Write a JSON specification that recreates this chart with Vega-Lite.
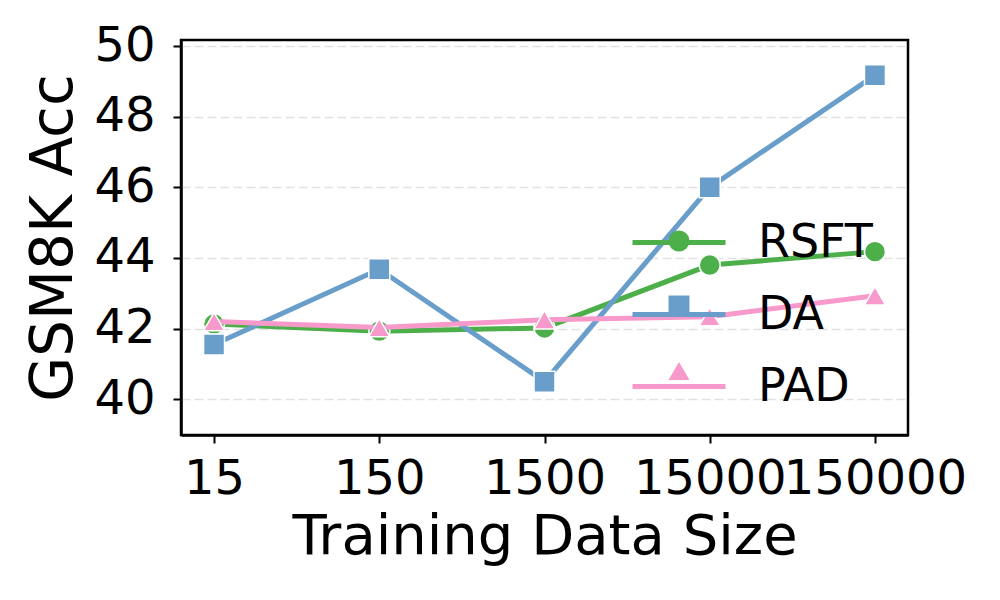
{
  "$schema": "https://vega.github.io/schema/vega-lite/v6.json",
  "autosize": {"type": "none"},
  "padding": {"left": 181, "top": 40, "right": 92, "bottom": 165},
  "width": 727,
  "height": 395,
  "config": {
    "font": "DejaVu Sans",
    "view": {"stroke": "black", "strokeWidth": 2.5},
    "axis": {"domainColor": "black", "domainWidth": 2.5, "tickColor": "black", "tickWidth": 2, "tickSize": 8, "labelColor": "black", "titleColor": "black", "titleFontWeight": "normal", "labelFont": "DejaVu Sans", "titleFont": "DejaVu Sans"},
    "legend": {"labelFont": "DejaVu Sans"}
  },
  "data": {
    "values": [
      {"size": "15", "series": "RSFT", "acc": 42.13},
      {"size": "150", "series": "RSFT", "acc": 41.93},
      {"size": "1500", "series": "RSFT", "acc": 42.02},
      {"size": "15000", "series": "RSFT", "acc": 43.8},
      {"size": "150000", "series": "RSFT", "acc": 44.18},
      {"size": "15", "series": "DA", "acc": 41.55},
      {"size": "150", "series": "DA", "acc": 43.68},
      {"size": "1500", "series": "DA", "acc": 40.5},
      {"size": "15000", "series": "DA", "acc": 46.0},
      {"size": "150000", "series": "DA", "acc": 49.17},
      {"size": "15", "series": "PAD", "acc": 42.2},
      {"size": "150", "series": "PAD", "acc": 42.03},
      {"size": "1500", "series": "PAD", "acc": 42.25},
      {"size": "15000", "series": "PAD", "acc": 42.34},
      {"size": "150000", "series": "PAD", "acc": 42.93}
    ]
  },
  "encoding": {
    "x": {
      "field": "size", "type": "ordinal",
      "sort": ["15", "150", "1500", "15000", "150000"],
      "scale": {"type": "point", "padding": 0.2},
      "axis": {"title": "Training Data Size", "labelAngle": 0, "labelFontSize": 48, "titleFontSize": 56, "labelPadding": 12, "titlePadding": 6, "labelOverlap": false, "labelBound": false, "labelLimit": 0, "grid": false}
    },
    "y": {
      "field": "acc", "type": "quantitative",
      "scale": {"domain": [38.99, 50.17], "nice": false, "zero": false},
      "axis": {"title": "GSM8K Acc", "values": [40, 42, 44, 46, 48, 50], "labelFontSize": 48, "titleFontSize": 58, "labelPadding": 18, "titlePadding": 10, "grid": true, "gridColor": "#e2e2e2", "gridWidth": 1.5, "gridDash": [9, 4]}
    }
  },
  "layer": [
    {
      "transform": [{"filter": "datum.series === 'RSFT'"}],
      "mark": {"type": "line", "strokeWidth": 5},
      "encoding": {"color": {"field": "series", "type": "nominal", "sort": ["RSFT", "DA", "PAD"], "scale": {"range": ["#4daf4a", "#699ecb", "#f799cb"]}, "legend": {"title": null, "orient": "none", "legendX": 449, "legendY": 153.5, "symbolType": "stroke", "symbolSize": 8649, "symbolStrokeWidth": 5, "labelFontSize": 46, "labelOffset": 30, "rowPadding": -28, "padding": 0, "labelColor": "black"}}}
    },
    {
      "transform": [{"filter": "datum.series === 'RSFT'"}],
      "mark": {"type": "point", "filled": true, "size": 440, "stroke": "white", "strokeWidth": 1.5, "opacity": 1},
      "encoding": {
        "shape": {"field": "series", "type": "nominal", "scale": {"domain": ["RSFT", "DA", "PAD"], "range": ["circle", "square", "triangle-up"]}, "legend": {"title": null, "orient": "none", "legendX": 475, "legendY": 178, "symbolSize": 440, "symbolStrokeColor": "white", "symbolStrokeWidth": 1.5, "labelFontSize": 46, "labelOpacity": 0, "rowPadding": 19, "padding": 0, "symbolOpacity": 1}},
        "fill": {"field": "series", "type": "nominal", "scale": {"domain": ["RSFT", "DA", "PAD"], "range": ["#4daf4a", "#699ecb", "#f799cb"]}, "legend": {"title": null, "orient": "none", "legendX": 475, "legendY": 178, "symbolSize": 440, "symbolStrokeColor": "white", "symbolStrokeWidth": 1.5, "labelFontSize": 46, "labelOpacity": 0, "rowPadding": 19, "padding": 0, "symbolOpacity": 1}}
      }
    },
    {
      "transform": [{"filter": "datum.series === 'DA'"}],
      "mark": {"type": "line", "strokeWidth": 5},
      "encoding": {"color": {"field": "series", "type": "nominal", "sort": ["RSFT", "DA", "PAD"]}}
    },
    {
      "transform": [{"filter": "datum.series === 'DA'"}],
      "mark": {"type": "point", "filled": true, "size": 440, "stroke": "white", "strokeWidth": 1.5, "opacity": 1},
      "encoding": {"shape": {"field": "series", "type": "nominal"}, "fill": {"field": "series", "type": "nominal"}}
    },
    {
      "transform": [{"filter": "datum.series === 'PAD'"}],
      "mark": {"type": "line", "strokeWidth": 5},
      "encoding": {"color": {"field": "series", "type": "nominal", "sort": ["RSFT", "DA", "PAD"]}}
    },
    {
      "transform": [{"filter": "datum.series === 'PAD'"}],
      "mark": {"type": "point", "filled": true, "size": 440, "stroke": "white", "strokeWidth": 1.5, "opacity": 1},
      "encoding": {"shape": {"field": "series", "type": "nominal"}, "fill": {"field": "series", "type": "nominal"}}
    }
  ]
}
